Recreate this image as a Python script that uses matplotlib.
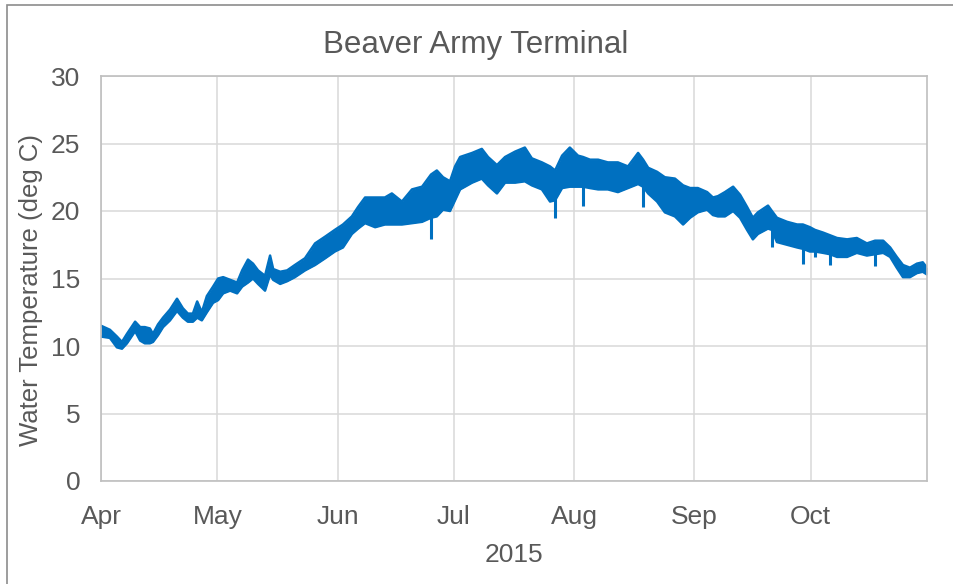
import matplotlib

matplotlib.use("Agg")

import matplotlib.dates as mdates
import matplotlib.pyplot as plt
import pandas as pd
from matplotlib.patches import Rectangle

# days since 1 Apr 2015, with upper / lower edge of the hourly trace
day = [0, 2.3, 4.1, 5.4, 6.7, 8.8, 10.1, 11.3, 12.6, 13.4, 14.7, 16.0, 17.8, 19.6,
       21.1, 22.4, 23.7, 24.8, 26.0, 27.3, 28.9, 30.2, 31.5, 33.3, 35.1, 36.4, 37.9,
       39.2, 40.5, 42.3, 43.6, 44.4, 46.2, 48.0, 50.0, 52.6, 55.2, 57.8, 60.3, 62.4,
       64.7, 66.3, 68.1, 70.7, 73.2, 75.0, 77.6, 80.2, 82.8, 85.1, 86.6, 88.2, 90.0,
       91.3, 92.6, 95.7, 98.2, 99.8, 102.1, 104.2, 106.8, 109.3, 111.1, 113.7, 115.8,
       117.1, 118.9, 120.9, 123.0, 124.3, 126.1, 128.2, 130.7, 133.3, 135.9, 138.5,
       139.8, 141.1, 143.4, 145.4, 148.0, 150.1, 151.9, 153.9, 156.3, 157.8, 159.1,
       160.9, 163.0, 164.8, 166.6, 168.1, 169.4, 172.0, 173.0, 174.3, 176.9, 179.5,
       181.0, 182.8, 184.1, 186.2, 188.0, 189.8, 192.4, 194.9, 197.5, 199.6, 201.7,
       203.5, 205.2, 206.8, 208.6, 210.4, 211.9, 213.0]
temp_hi = [11.5, 11.2, 10.7, 10.3, 10.9, 11.8, 11.4, 11.4, 11.3, 10.9, 11.6, 12.1, 12.7,
           13.5, 12.8, 12.4, 12.4, 13.3, 12.5, 13.7, 14.4, 15.0, 15.1, 14.9, 14.7, 15.6,
           16.4, 16.1, 15.6, 15.2, 16.7, 15.7, 15.5, 15.6, 16.0, 16.5, 17.6, 18.1, 18.6,
           19.0, 19.6, 20.3, 21.0, 21.0, 21.0, 21.3, 20.7, 21.6, 21.8, 22.7, 23.0, 22.5,
           22.2, 23.3, 24.0, 24.3, 24.6, 24.0, 23.4, 24.0, 24.4, 24.7, 23.9, 23.6, 23.3,
           23.0, 24.1, 24.7, 24.1, 24.0, 23.8, 23.8, 23.6, 23.6, 23.3, 24.3, 23.8, 23.2,
           22.9, 22.5, 22.4, 21.9, 21.7, 21.7, 21.4, 21.0, 21.1, 21.4, 21.8, 21.2, 20.3,
           19.5, 19.9, 20.4, 20.0, 19.5, 19.2, 19.0, 19.0, 18.8, 18.6, 18.4, 18.2, 18.0,
           17.9, 18.0, 17.6, 17.8, 17.8, 17.3, 16.6, 16.0, 15.8, 16.1, 16.2, 15.8]
temp_lo = [10.7, 10.6, 9.9, 9.8, 10.2, 11.1, 10.4, 10.2, 10.2, 10.3, 10.8, 11.4, 11.9,
           12.6, 12.1, 11.8, 11.8, 12.1, 11.9, 12.5, 13.2, 13.4, 13.9, 14.1, 13.9, 14.4,
           14.7, 15.0, 14.6, 14.1, 15.3, 14.9, 14.6, 14.8, 15.1, 15.6, 16.0, 16.5, 17.0,
           17.3, 18.3, 18.7, 19.1, 18.8, 19.0, 19.0, 19.0, 19.1, 19.2, 19.5, 19.6, 20.1,
           20.0, 20.8, 21.6, 22.1, 22.4, 21.9, 21.3, 22.1, 22.1, 22.2, 21.9, 21.6, 20.7,
           20.8, 21.7, 21.8, 21.8, 21.8, 21.7, 21.6, 21.6, 21.4, 21.7, 22.0, 21.8, 21.3,
           20.7, 19.9, 19.6, 19.0, 19.5, 19.9, 20.1, 19.7, 19.6, 19.6, 20.0, 19.5, 18.6,
           17.9, 18.3, 18.7, 18.6, 17.7, 17.5, 17.3, 17.2, 17.0, 17.0, 16.9, 16.8, 16.6,
           16.6, 16.9, 16.7, 16.8, 16.9, 16.6, 15.8, 15.1, 15.1, 15.4, 15.5, 15.3]

# short downward spikes in the record
spike_day = [85.1, 117.1, 124.3, 139.8, 173.0, 181.0, 184.1, 188.0, 199.6]
spike_top = [20.0, 21.2, 22.0, 22.0, 18.8, 17.4, 17.2, 17.0, 17.0]
spike_low = [17.9, 19.5, 20.4, 20.3, 17.3, 16.1, 16.6, 16.0, 15.9]

start = pd.Timestamp("2015-04-01")
times = start + pd.to_timedelta(day, unit="D")
spike_times = start + pd.to_timedelta(spike_day, unit="D")

text_color = "#595959"
line_color = "#0070C0"

plt.rcParams["font.family"] = ["Liberation Sans", "DejaVu Sans"]

fig = plt.figure(figsize=(9.54, 5.84), dpi=100)
ax = fig.add_axes([101 / 954, 103 / 584, 826 / 954, 405 / 584])

ax.fill_between(times, temp_lo, temp_hi, color=line_color, linewidth=0)
ax.plot(times, temp_hi, color=line_color, linewidth=1.8)
ax.plot(times, temp_lo, color=line_color, linewidth=1.8)
ax.vlines(spike_times, spike_low, spike_top, color=line_color, linewidth=2.2)

ax.set_xlim(start, pd.Timestamp("2015-10-31"))
ax.set_ylim(0, 30)
ax.set_yticks(range(0, 31, 5))
ax.xaxis.set_major_locator(mdates.MonthLocator())
ax.xaxis.set_major_formatter(mdates.DateFormatter("%b"))

ax.grid(color="#D9D9D9", linewidth=1.1)
ax.set_axisbelow(True)
for spine in ax.spines.values():
    spine.set_color("#BFBFBF")
    spine.set_linewidth(1.2)
ax.tick_params(length=0, labelsize=19, colors=text_color)
ax.tick_params(axis="x", pad=17)
ax.tick_params(axis="y", pad=15)

ax.set_xlabel("2015", fontsize=19, color=text_color, labelpad=10)
ax.set_ylabel("Water Temperature (deg C)", fontsize=18.5, color=text_color)
ax.yaxis.set_label_coords(-0.070, 0.472)

fig.text(476 / 954, 1 - 53.5 / 584, "Beaver Army Terminal", fontsize=22.5,
         color=text_color, ha="center", va="baseline")

# chart area border (cut off at the right and bottom of the picture)
fig.add_artist(Rectangle((7.3 / 954, -0.1), 1.2, 1.1 - 4.7 / 584,
                         transform=fig.transFigure, fill=False,
                         edgecolor="#8C8C8C", linewidth=1.2))

fig.savefig("out.png", dpi=100)
plt.close(fig)
